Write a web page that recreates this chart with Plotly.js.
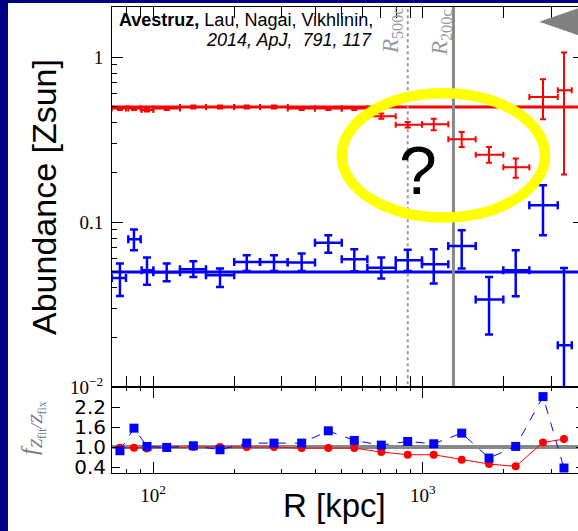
<!DOCTYPE html>
<html>
<head>
<meta charset="utf-8">
<script src="https://cdn.plot.ly/plotly-3.0.1.min.js"></script>
<style>
html, body { margin:0; padding:0; overflow:hidden; background:#000082; width:578px; height:531px; }
#chart { position:absolute; left:8px; top:3px; width:592px; height:528px; }
</style>
</head>
<body>
<div id="chart"></div>
<script>
// ---- data ----
const R       = [75.4, 85.0, 95.0, 112.4, 141.1, 177.2, 222.6, 280.9, 355.8, 446.7, 557.6, 702.2, 879.8, 1098.6, 1395.1, 1761.6, 2212, 2792.5, 3340];
const binLo   = [70.3, 81.0, 90.8, 100.3, 125.9, 157.2, 200.0, 249.3, 316.0, 398.7, 500.9, 623.3, 794.1, 994, 1244, 1572, 1990, 2485, 3168];
const binHi   = [79.4, 90.0, 100.3, 125.9, 157.2, 200.0, 249.3, 316.0, 398.7, 500.9, 623.3, 794.1, 994, 1244, 1572, 1990, 2485, 3168, 3569];

const zRed    = [0.49, 0.49, 0.48, 0.49, 0.50, 0.50, 0.50, 0.50, 0.49, 0.49, 0.49, 0.44, 0.39, 0.393, 0.319, 0.257, 0.216, 0.574, 0.631];
const zRedHi  = [0.50, 0.50, 0.49, 0.50, 0.51, 0.51, 0.51, 0.51, 0.50, 0.50, 0.50, 0.456, 0.405, 0.425, 0.353, 0.286, 0.244, 0.736, 1.068];
const zRedLo  = [0.48, 0.48, 0.47, 0.48, 0.49, 0.49, 0.49, 0.49, 0.48, 0.48, 0.48, 0.425, 0.375, 0.361, 0.286, 0.230, 0.186, 0.421, 0.195];

const zBlue   = [0.046, 0.0789, 0.0512, 0.0498, 0.0519, 0.0477, 0.0575, 0.0575, 0.057, 0.0753, 0.0597, 0.0531, 0.0589, 0.0556, 0.0719, 0.034, 0.0512, 0.1268, 0.018];
const zBlueHi = [0.0562, 0.0903, 0.0611, 0.0562, 0.058, 0.0524, 0.0631, 0.0631, 0.0646, 0.0834, 0.0686, 0.0611, 0.0683, 0.0686, 0.0894, 0.0466, 0.0677, 0.1676, 0.0528];
const zBlueLo = [0.0357, 0.0677, 0.0419, 0.0439, 0.0466, 0.0405, 0.0507, 0.0507, 0.0507, 0.0655, 0.0505, 0.0456, 0.0507, 0.0425, 0.0524, 0.0209, 0.0356, 0.0834, 0.004];

const ratioRed  = [0.98, 0.98, 0.96, 0.98, 1.0, 1.0, 1.0, 1.0, 0.97, 0.97, 0.97, 0.85, 0.77, 0.77, 0.62, 0.49, 0.42, 1.14, 1.24];
const ratioBlue = [0.89, 1.57, 1.02, 0.99, 1.04, 0.92, 1.12, 1.12, 1.12, 1.49, 1.20, 1.06, 1.17, 1.10, 1.42, 0.67, 1.02, 2.52, 0.37];

const zFixRed = 0.5, zFixBlue = 0.05, ratioOne = 1.0;
const R500c = 880, R200c = 1300;
const lineSpanR = [50, 6000];
const abundSpan = [0.001, 10];

const xTickVals = [100, 1000];
const xTickText = ['10<sup>2</sup>', '10<sup>3</sup>'];
const xMinorVals = [80, 90, 200, 300, 400, 500, 600, 700, 800, 900, 2000, 3000];
const yTickVals = [0.01, 0.1, 1];
const yTickText = ['10<sup>\u22122</sup>', '0.1', '1'];
const yMinorVals = [0.02,0.03,0.04,0.05,0.06,0.07,0.08,0.09,0.2,0.3,0.4,0.5,0.6,0.7,0.8,0.9];
const y2TickVals = [0.4, 1.0, 1.6, 2.2];
const y2TickText = ['0.4', '1.0', '1.6', '2.2'];

// ---- helpers for overlay positions (window pixels -> paper) ----
const px2x = p => (p - 112) / 472;
const py2y = p => (473 - p) / 466;

const RED = '#ff0000', BLUE = '#0000ff', GREY = '#888888';

const up = (hi, v) => hi.map((h, i) => h - v[i]);
const dn = (lo, v) => lo.map((l, i) => v[i] - l);

const traces = [
  {x: lineSpanR, y: [zFixRed, zFixRed], xaxis:'x', yaxis:'y', mode:'lines', line:{color:RED, width:3}, hoverinfo:'skip'},
  {x: lineSpanR, y: [zFixBlue, zFixBlue], xaxis:'x', yaxis:'y', mode:'lines', line:{color:BLUE, width:3}, hoverinfo:'skip'},
  {x: [R500c, R500c], y: abundSpan, xaxis:'x', yaxis:'y', mode:'lines', line:{color:'#9a9a9a', width:2, dash:'dot'}, hoverinfo:'skip'},
  {x: [R200c, R200c], y: abundSpan, xaxis:'x', yaxis:'y', mode:'lines', line:{color:GREY, width:3}, hoverinfo:'skip'},
  {x: R, y: zRed, xaxis:'x', yaxis:'y', mode:'markers', marker:{color:RED, size:2},
   error_x:{type:'data', symmetric:false, array: up(binHi, R), arrayminus: dn(binLo, R), color:RED, thickness:2, width:3},
   error_y:{type:'data', symmetric:false, array: up(zRedHi, zRed), arrayminus: dn(zRedLo, zRed), color:RED, thickness:2, width:3}},
  {x: R, y: zBlue, xaxis:'x', yaxis:'y', mode:'markers', marker:{color:BLUE, size:2},
   error_x:{type:'data', symmetric:false, array: up(binHi, R), arrayminus: dn(binLo, R), color:BLUE, thickness:2.5, width:4},
   error_y:{type:'data', symmetric:false, array: up(zBlueHi, zBlue), arrayminus: dn(zBlueLo, zBlue), color:BLUE, thickness:2.5, width:4}},
  {x: lineSpanR, y: [ratioOne, ratioOne], xaxis:'x', yaxis:'y2', mode:'lines', line:{color:GREY, width:4}, hoverinfo:'skip'},
  {x: R, y: ratioRed, xaxis:'x', yaxis:'y2', mode:'lines+markers', line:{color:RED, width:1}, marker:{color:RED, size:8, symbol:'circle'}, cliponaxis:false},
  {x: R, y: ratioBlue, xaxis:'x', yaxis:'y2', mode:'lines+markers', line:{color:BLUE, width:1, dash:'dash'}, marker:{color:BLUE, size:9, symbol:'square'}, cliponaxis:false}
];

const axisCommon = {
  showline:true, linecolor:'#000', linewidth:1, mirror:'allticks',
  ticks:'inside', ticklen:11, tickcolor:'#000', tickwidth:1, showgrid:false, zeroline:false
};

const layout = {
  width:592, height:528,
  margin:{l:104, r:16, t:4, b:58},
  paper_bgcolor:'#ffffff', plot_bgcolor:'#ffffff',
  showlegend:false,
  xaxis: Object.assign({}, axisCommon, {
    type:'log', range:[1.848, 3.598], anchor:'y2',
    tickmode:'array', tickvals:xTickVals, ticktext:xTickText,
    tickfont:{family:'Liberation Serif', size:19, color:'#000'}, ticklabelstandoff:5,
    minor:{tickmode:'array', tickvals:xMinorVals, ticks:'inside', ticklen:4, tickcolor:'#000'}
  }),
  yaxis: Object.assign({}, axisCommon, {
    type:'log', range:[-2, 0.305], domain:[0.1839, 1], anchor:'x',
    tickmode:'array', tickvals:yTickVals, ticktext:yTickText,
    tickfont:{family:'Liberation Serif', size:19, color:'#000'}, ticklabelstandoff:4,
    minor:{tickmode:'array', tickvals:yMinorVals, ticks:'inside', ticklen:5, tickcolor:'#000'}
  }),
  yaxis2: Object.assign({}, axisCommon, {
    range:[0.22, 2.8], domain:[0, 0.1839], anchor:'x',
    tickmode:'array', tickvals:y2TickVals, ticktext:y2TickText, ticklen:8,
    tickfont:{family:'DejaVu Sans', size:20, color:'#000'}, ticklabelstandoff:1
  }),
  shapes: [
    {type:'circle', xref:'paper', yref:'paper', x0:px2x(341.7), x1:px2x(545), y0:py2y(217.5), y1:py2y(93.3),
     line:{color:'#ffff00', width:10.5}, layer:'above'},
    {type:'path', xref:'paper', yref:'paper', layer:'above', fillcolor:'#808080', line:{width:0},
     path:`M ${px2x(539.3)} ${py2y(21.7)} L ${px2x(592)} ${py2y(3.5)} L ${px2x(592)} ${py2y(39.9)} Z`}
  ],
  annotations: [
    {xref:'paper', yref:'paper', x:px2x(44), y:py2y(197), text:'Abundance [Zsun]', textangle:-90, showarrow:false,
     xanchor:'center', yanchor:'middle', font:{family:'Liberation Sans', size:34, color:'#000'}},
    {xref:'paper', yref:'paper', x:px2x(334), y:py2y(505), text:'R [kpc]', showarrow:false,
     xanchor:'center', yanchor:'middle', font:{family:'Liberation Sans', size:33, color:'#000'}},
    {xref:'paper', yref:'paper', x:px2x(32), y:py2y(428), text:'<i>f</i><sub><i>Z</i><sub>fit</sub><i>/Z</i><sub>fix</sub></sub>', textangle:-90, showarrow:false,
     xanchor:'center', yanchor:'middle', font:{family:'Liberation Serif', size:24, color:'#777'}},
    {xref:'paper', yref:'paper', x:px2x(116.5), y:py2y(20.5), text:'<b>Avestruz,</b> Lau, Nagai, Vikhlinin,', showarrow:false,
     xanchor:'left', yanchor:'middle', font:{family:'Liberation Sans', size:18, color:'#000'}},
    {xref:'paper', yref:'paper', x:px2x(373.5), y:py2y(39.5), text:'<i>2014, ApJ,&nbsp; 791, 117</i>', showarrow:false,
     xanchor:'right', yanchor:'middle', font:{family:'Liberation Sans', size:18, color:'#000'}},
    {xref:'paper', yref:'paper', x:px2x(392), y:py2y(31), text:'<i>R</i><sub>500c</sub>', textangle:-90, showarrow:false,
     xanchor:'center', yanchor:'middle', font:{family:'Liberation Serif', size:23, color:'#9a9a9a'}},
    {xref:'paper', yref:'paper', x:px2x(441), y:py2y(33), text:'<i>R</i><sub>200c</sub>', textangle:-90, showarrow:false,
     xanchor:'center', yanchor:'middle', font:{family:'Liberation Serif', size:23, color:'#9a9a9a'}},
    {xref:'paper', yref:'paper', x:px2x(417.5), y:py2y(170), text:'?', showarrow:false,
     xanchor:'center', yanchor:'middle', font:{family:'Liberation Sans', size:68, color:'#000'}}
  ]
};

Plotly.newPlot('chart', traces, layout, {displayModeBar:false, staticPlot:true});
</script>
</body>
</html>
